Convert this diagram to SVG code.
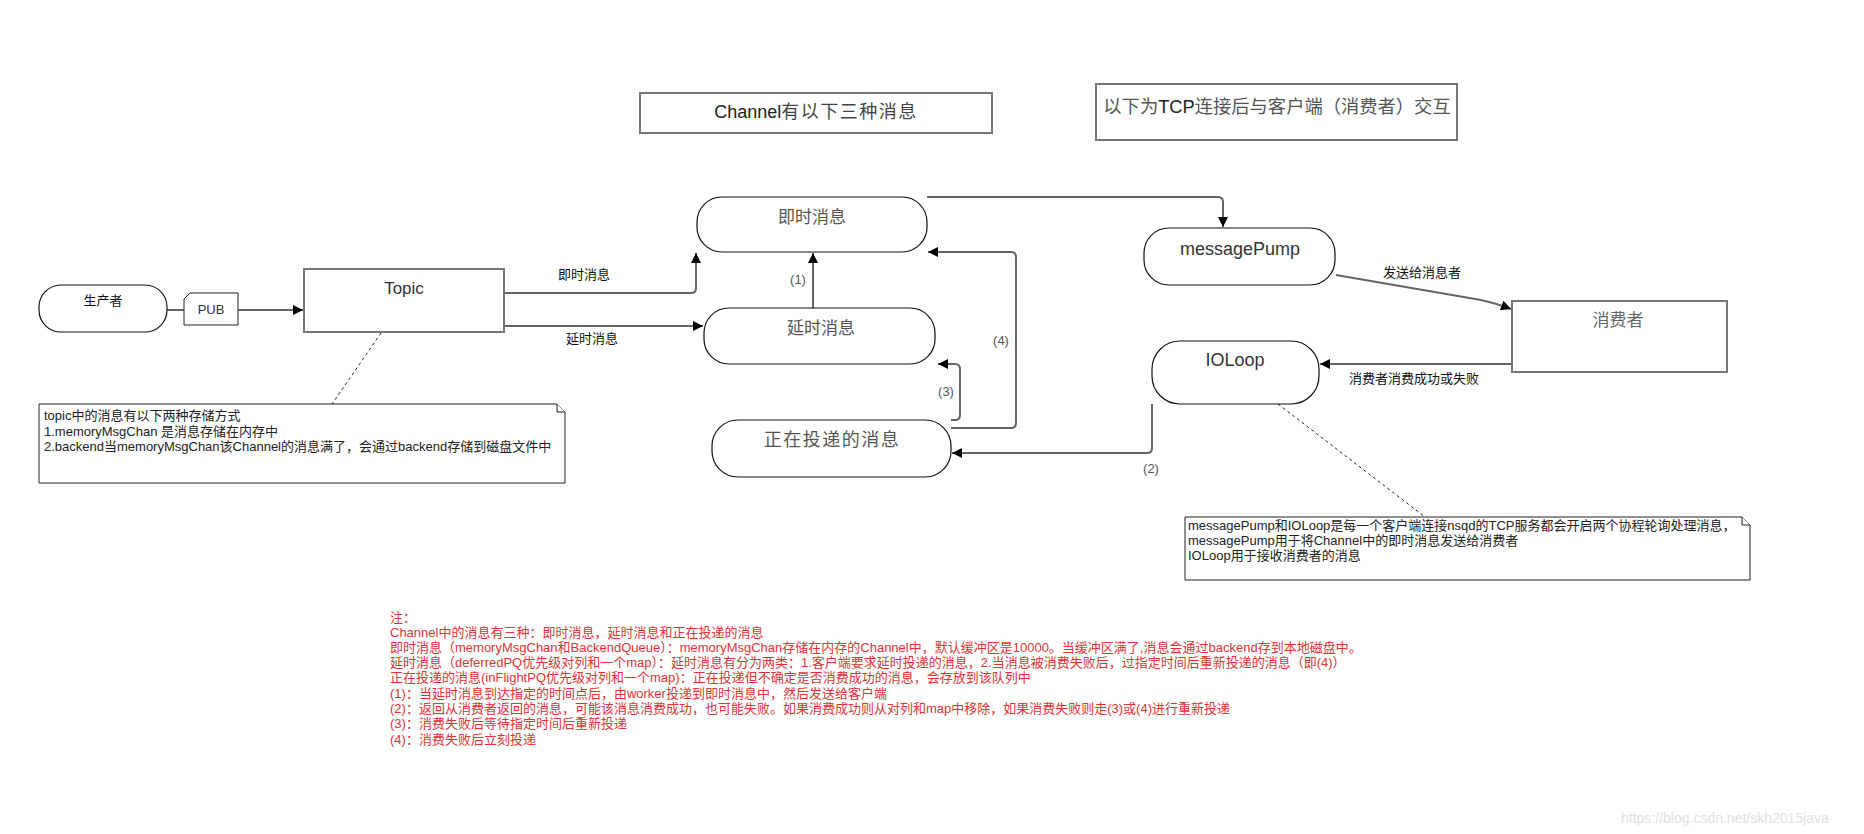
<svg xmlns="http://www.w3.org/2000/svg" width="1864" height="834" viewBox="0 0 1864 834">
<style>
text{font-family:"Liberation Sans","Noto Sans CJK SC",sans-serif;}
.box{fill:#fff;stroke:#777;stroke-width:2;}
.node{fill:#fff;stroke:#111;stroke-width:1.2;}
.note{fill:#fff;stroke:#222;stroke-width:1;}
.conn{fill:none;stroke:#666;stroke-width:2;}
.dash{fill:none;stroke:#222;stroke-width:1;stroke-dasharray:3,3;}
.nt{fill:#555;text-anchor:middle;}
.lbl{font-size:13px;fill:#111;}
.num{font-size:13px;fill:#555;}
.ntext{font-size:13px;fill:#222;}
.red{font-size:13px;fill:#e53333;}
</style>
<defs>
<marker id="arr" markerUnits="userSpaceOnUse" markerWidth="11" markerHeight="10" refX="10" refY="5" orient="auto">
<path d="M0,0 L10,5 L0,10 Z" fill="#000"/>
</marker>
</defs>
<rect width="1864" height="834" fill="#fff"/>

<g id="connectors">
<path class="conn" d="M167,310 H184"/>
<path class="conn" d="M238,310 H303" marker-end="url(#arr)"/>
<path class="conn" d="M504,293 H691 Q696,293 696,288 V253" marker-end="url(#arr)"/>
<path class="conn" d="M504,326 H703" marker-end="url(#arr)"/>
<path class="conn" d="M813,308 V253" marker-end="url(#arr)"/>
<path class="conn" d="M951,420 H955 Q960,420 960,415 V369 Q960,364 955,364 H938" marker-end="url(#arr)"/>
<path class="conn" d="M951,428 H1011 Q1016,428 1016,423 V257 Q1016,252 1011,252 H928" marker-end="url(#arr)"/>
<path class="conn" d="M1152,404 V448 Q1152,453 1147,453 H952" marker-end="url(#arr)"/>
<path class="conn" d="M927,197 H1218 Q1223,197 1223,202 V227" marker-end="url(#arr)"/>
<path class="conn" d="M1336,275 L1481,300 Q1495,303 1511,309" marker-end="url(#arr)"/>
<path class="conn" d="M1512,364 H1320" marker-end="url(#arr)"/>
<path class="dash" d="M381,333 L332,404"/>
<path class="dash" d="M1278,404 L1425,517"/>
<text class="lbl" x="584" y="279" text-anchor="middle">即时消息</text>
<text class="lbl" x="592" y="343" text-anchor="middle">延时消息</text>
<text class="num" x="798" y="284" text-anchor="middle">(1)</text>
<text class="num" x="946" y="396" text-anchor="middle">(3)</text>
<text class="num" x="1001" y="345" text-anchor="middle">(4)</text>
<text class="num" x="1151" y="473" text-anchor="middle">(2)</text>
<text class="lbl" x="1422" y="277" text-anchor="middle">发送给消息者</text>
<text class="lbl" x="1414" y="383" text-anchor="middle">消费者消费成功或失败</text>
</g>

<g id="producer">
<rect class="node" x="39" y="285" width="128" height="47" rx="22" ry="22"/>
<text x="103" y="305" text-anchor="middle" font-size="13" fill="#111">生产者</text>
</g>

<g id="pub">
<path class="note" d="M190,293 H238 V325 H184 V299 Z"/>
<text x="211" y="314" text-anchor="middle" font-size="13" fill="#333">PUB</text>
</g>

<g id="topic">
<rect class="box" x="304" y="269" width="200" height="63"/>
<text x="404" y="294" text-anchor="middle" font-size="17" fill="#333">Topic</text>
</g>

<g id="topic-note">
<path class="note" d="M39,404 H557 L565,412 V483 H39 Z"/>
<path class="note" d="M557,404 V412 H565" fill="none"/>
<text class="ntext" x="44" y="420">topic中的消息有以下两种存储方式</text>
<text class="ntext" x="44" y="436">1.memoryMsgChan 是消息存储在内存中</text>
<text class="ntext" x="44" y="451">2.backend当memoryMsgChan该Channel的消息满了，会通过backend存储到磁盘文件中</text>
</g>

<g id="channel-title">
<rect class="box" x="640" y="93" width="352" height="40"/>
<text x="816" y="118" text-anchor="middle" font-size="18" fill="#222">Channel<tspan letter-spacing="1.5" fill="#444">有以下三种消息</tspan></text>
</g>

<g id="tcp-title">
<rect class="box" x="1096" y="84" width="361" height="56"/>
<text x="1277" y="113" text-anchor="middle" font-size="18.3" fill="#555">以下为<tspan fill="#222">TCP</tspan>连接后与客户端（消费者）交互</text>
</g>

<g id="immediate">
<rect class="node" x="697" y="197" width="230" height="55" rx="25" ry="25"/>
<text class="nt" x="812" y="223" font-size="17">即时消息</text>
</g>

<g id="deferred">
<rect class="node" x="704" y="308" width="231" height="56" rx="25" ry="25"/>
<text class="nt" x="821" y="334" font-size="17">延时消息</text>
</g>

<g id="inflight">
<rect class="node" x="712" y="420" width="239" height="57" rx="26" ry="26"/>
<text class="nt" x="832" y="446" font-size="18" letter-spacing="1.5">正在投递的消息</text>
</g>

<g id="messagePump">
<rect class="node" x="1144" y="228" width="191" height="57" rx="25" ry="25"/>
<text x="1240" y="255" text-anchor="middle" font-size="18" fill="#333">messagePump</text>
</g>

<g id="consumer">
<rect class="box" x="1512" y="301" width="215" height="71"/>
<text class="nt" x="1618" y="326" font-size="17" style="fill:#666">消费者</text>
</g>

<g id="ioloop">
<rect class="node" x="1152" y="341" width="167" height="63" rx="28" ry="28"/>
<text x="1235" y="366" text-anchor="middle" font-size="18" fill="#333">IOLoop</text>
</g>

<g id="client-note">
<path class="note" d="M1185,517 H1742 L1750,525 V580 H1185 Z"/>
<path class="note" d="M1742,517 V525 H1750" fill="none"/>
<text class="ntext" x="1188" y="530">messagePump和IOLoop是每一个客户端连接nsqd的TCP服务都会开启两个协程轮询处理消息，</text>
<text class="ntext" x="1188" y="545">messagePump用于将Channel中的即时消息发送给消费者</text>
<text class="ntext" x="1188" y="560">IOLoop用于接收消费者的消息</text>
</g>

<g id="remarks">
<text class="red" x="390" y="622">注：</text>
<text class="red" x="390" y="637">Channel中的消息有三种：即时消息，延时消息和正在投递的消息</text>
<text class="red" x="390" y="652">即时消息（memoryMsgChan和BackendQueue）：memoryMsgChan存储在内存的Channel中，默认缓冲区是10000。当缓冲区满了,消息会通过backend存到本地磁盘中。</text>
<text class="red" x="390" y="667">延时消息（deferredPQ优先级对列和一个map）：延时消息有分为两类：1.客户端要求延时投递的消息，2.当消息被消费失败后，过指定时间后重新投递的消息（即(4)）</text>
<text class="red" x="390" y="682">正在投递的消息(inFlightPQ优先级对列和一个map)：正在投递但不确定是否消费成功的消息，会存放到该队列中</text>
<text class="red" x="390" y="698">(1)：当延时消息到达指定的时间点后，由worker投递到即时消息中，然后发送给客户端</text>
<text class="red" x="390" y="713">(2)：返回从消费者返回的消息，可能该消息消费成功，也可能失败。如果消费成功则从对列和map中移除，如果消费失败则走(3)或(4)进行重新投递</text>
<text class="red" x="390" y="728">(3)：消费失败后等待指定时间后重新投递</text>
<text class="red" x="390" y="744">(4)：消费失败后立刻投递</text>
</g>

<text x="1621" y="823" font-size="14" fill="#e2e2e2">https://blog.csdn.net/skh2015java</text>
</svg>
